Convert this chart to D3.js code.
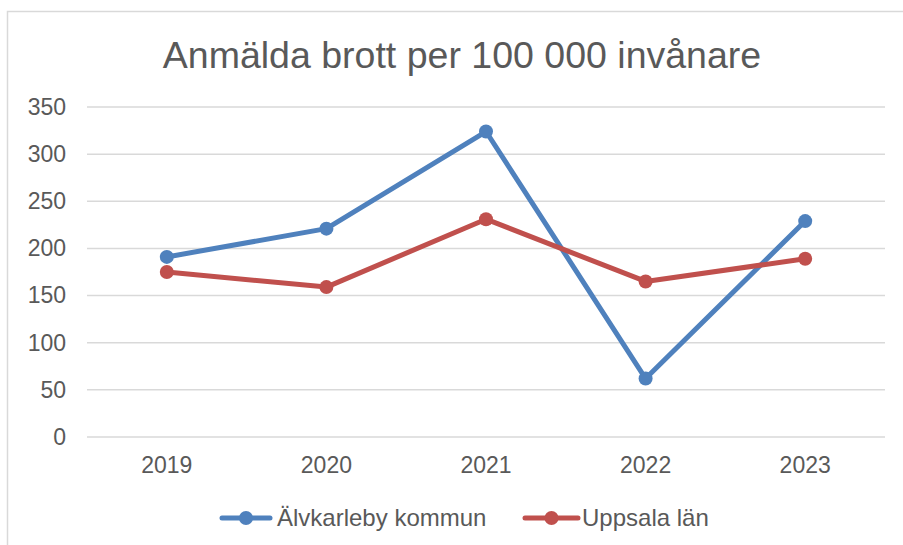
<!DOCTYPE html>
<html>
<head>
<meta charset="utf-8">
<script src="https://cdn.jsdelivr.net/npm/d3@7"></script>
<style>
  html, body { margin: 0; padding: 0; background: #fff; }
  svg { display: block; font-family: "Liberation Sans", Arial, sans-serif; }
</style>
</head>
<body>
<svg id="chart" width="903" height="545"></svg>
<script>
const years = ["2019", "2020", "2021", "2022", "2023"];
const alvkarleby = [191, 221, 324, 62, 229];
const uppsala = [175, 159, 231, 165, 189];
const yTicks = [0, 50, 100, 150, 200, 250, 300, 350];
const seriesNames = ["Älvkarleby kommun", "Uppsala län"];
const seriesColors = ["#4F81BD", "#C0504D"];
const titleText = "Anmälda brott per 100 000 invånare";

const svg = d3.select("#chart");
const plot = { left: 87, right: 885, top: 107, bottom: 437 };

// outer border
svg.append("rect")
  .attr("x", 7.5).attr("y", 11.5)
  .attr("width", 1000).attr("height", 1000)
  .attr("fill", "#fff").attr("stroke", "#D9D9D9").attr("stroke-width", 1.5);

// title
svg.append("text")
  .attr("x", 462).attr("y", 68)
  .attr("text-anchor", "middle")
  .attr("font-size", 37.5)
  .attr("fill", "#595959")
  .text(titleText);

const x = d3.scaleBand().domain(years).range([plot.left, plot.right]);
const y = d3.scaleLinear().domain([0, 350]).range([plot.bottom, plot.top]);

// gridlines
svg.append("g")
  .selectAll("line")
  .data(yTicks)
  .join("line")
  .attr("x1", plot.left).attr("x2", plot.right)
  .attr("y1", d => y(d)).attr("y2", d => y(d))
  .attr("stroke", "#D9D9D9").attr("stroke-width", 1.5);

// y axis
const yAxis = svg.append("g")
  .attr("transform", `translate(${plot.left},0)`)
  .call(d3.axisLeft(y).tickValues(yTicks).tickSize(0).tickPadding(21));
yAxis.select(".domain").remove();
yAxis.selectAll("text").attr("font-size", 23).attr("fill", "#595959")
  .attr("font-family", "Liberation Sans, Arial, sans-serif");

// x axis
const xAxis = svg.append("g")
  .attr("transform", `translate(0,${plot.bottom})`)
  .call(d3.axisBottom(x).tickSize(0).tickPadding(20));
xAxis.select(".domain").remove();
xAxis.selectAll("text").attr("font-size", 23).attr("fill", "#595959")
  .attr("font-family", "Liberation Sans, Arial, sans-serif");

const cx = d => x(d) + x.bandwidth() / 2;
const series = [alvkarleby, uppsala];
const line = d3.line().x((d, i) => cx(years[i])).y(d => y(d));

series.forEach((vals, si) => {
  svg.append("path")
    .datum(vals)
    .attr("d", line)
    .attr("fill", "none")
    .attr("stroke", seriesColors[si])
    .attr("stroke-width", 5)
    .attr("stroke-linejoin", "round")
    .attr("stroke-linecap", "round");
  svg.append("g").selectAll("circle")
    .data(vals)
    .join("circle")
    .attr("cx", (d, i) => cx(years[i]))
    .attr("cy", d => y(d))
    .attr("r", 7)
    .attr("fill", seriesColors[si]);
});

// legend
const legendItems = [
  { x0: 222, x1: 270, tx: 277 },
  { x0: 525, x1: 578, tx: 582 }
];
const ly = 518;
legendItems.forEach((it, i) => {
  const g = svg.append("g");
  g.append("line")
    .attr("x1", it.x0).attr("x2", it.x1).attr("y1", ly).attr("y2", ly)
    .attr("stroke", seriesColors[i]).attr("stroke-width", 5)
    .attr("stroke-linecap", "round");
  g.append("circle")
    .attr("cx", (it.x0 + it.x1) / 2).attr("cy", ly).attr("r", 7)
    .attr("fill", seriesColors[i]);
  g.append("text")
    .attr("x", it.tx).attr("y", ly).attr("dy", "0.35em")
    .attr("font-size", 24).attr("fill", "#595959")
    .text(seriesNames[i]);
});
</script>
</body>
</html>
